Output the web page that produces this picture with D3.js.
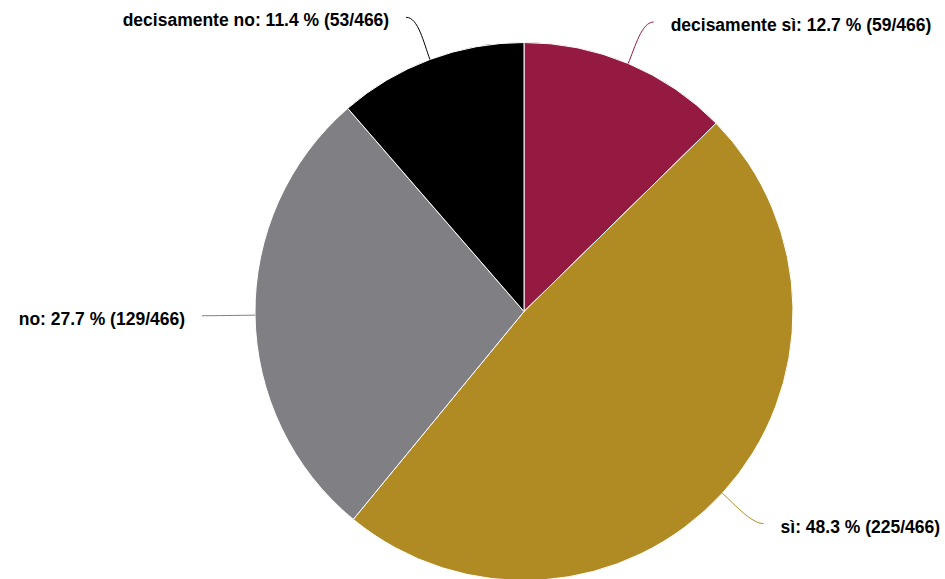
<!DOCTYPE html>
<html><head><meta charset="utf-8">
<script src="https://cdn.jsdelivr.net/npm/d3@7"></script>
<style>body{margin:0;background:#fff}svg{display:block}</style>
</head><body>
<svg id="c" width="945" height="579"></svg>
<script>
const categories = ["decisamente sì", "sì", "no", "decisamente no"];
const counts = [59, 225, 129, 53];
const colors = ["#951a42", "#b08a22", "#807f84", "#000000"];
const total = 466;

const W = 945, H = 579;
const cx = 524, cy = 311.5, R = 269, labelDist = 45;
const svg = d3.select("#c");
const g = svg.append("g").attr("transform", `translate(${cx},${cy})`);

const data = categories.map((c, i) => ({name: c, value: counts[i], color: colors[i]}));
const pie = d3.pie().sort(null).value(d => d.value);
const arcs = pie(data);
const arc = d3.arc().innerRadius(0).outerRadius(R);

g.selectAll("path.slice").data(arcs).join("path")
  .attr("class", "slice")
  .attr("d", arc)
  .attr("fill", d => d.data.color)
  .attr("stroke", "#fff").attr("stroke-width", 1).attr("stroke-linejoin", "round");

arcs.forEach(a => {
  const m = (a.startAngle + a.endAngle) / 2;
  const s = Math.sin(m), c = -Math.cos(m);
  const right = s >= 0;
  const dir = right ? 1 : -1;
  const ax = (R + labelDist) * s, ay = (R + labelDist) * c;
  const ex = R * s, ey = R * c;
  const endX = ax + dir * 8, endY = ay;
  const mx = (R + 18) * s, my = (R + 18) * c;
  g.append("path")
    .attr("d", `M${endX},${endY} C${endX - dir * 12},${endY} ${mx},${my} ${ex},${ey}`)
    .attr("fill", "none").attr("stroke", a.data.color).attr("stroke-width", 1);
  const pct = (a.data.value / total * 100).toFixed(1);
  g.append("text")
    .attr("x", ax + dir * 25).attr("y", ay + 3)
    .attr("dy", "0.35em")
    .attr("text-anchor", right ? "start" : "end")
    .attr("font-family", "'Liberation Sans', Arial, Helvetica, sans-serif")
    .attr("font-weight", "bold").attr("font-size", "17.5px").attr("fill", "#000")
    .text(`${a.data.name}: ${pct} % (${a.data.value}/${total})`);
});
</script>
</body></html>
